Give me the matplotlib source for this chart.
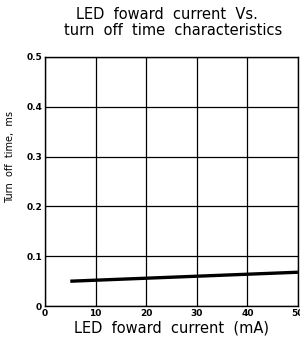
import matplotlib
matplotlib.use('Agg')
import matplotlib.pyplot as plt

# LED forward current (mA) vs turn off time (ms)
current = [5, 10, 20, 30, 40, 50]
toff = [0.050, 0.052, 0.056, 0.060, 0.064, 0.068]

xticks = [0, 10, 20, 30, 40, 50]
yticks = [0, 0.1, 0.2, 0.3, 0.4, 0.5]
yticklabels = ['0', '0.1', '0.2', '0.3', '0.4', '0.5']

fig = plt.figure(figsize=(3.0, 3.39), dpi=100)
ax = fig.add_axes([0.15, 0.097, 0.843, 0.735])

ax.plot(current, toff, color='black', linewidth=2.4, solid_capstyle='butt')

ax.set_xlim(0, 50)
ax.set_ylim(0, 0.5)
ax.set_xticks(xticks)
ax.set_yticks(yticks)
ax.set_yticklabels(yticklabels)
ax.tick_params(labelsize=6.5, length=0, pad=2)
for lab in ax.get_xticklabels() + ax.get_yticklabels():
    lab.set_fontweight('bold')
ax.grid(True, color='black', linewidth=0.9)
for s in ax.spines.values():
    s.set_color('black')
    s.set_linewidth(1.0)

ax.set_xlabel('LED  foward  current  (mA)', fontsize=10.5, labelpad=2)
ax.set_ylabel('Turn  off  time,  ms', fontsize=7, labelpad=8)
ax.yaxis.set_label_coords(-0.12, 0.6)
fig.text(0.555, 0.978, 'LED  foward  current  Vs.', fontsize=10.5, ha='center', va='top')
fig.text(0.578, 0.932, 'turn  off  time  characteristics', fontsize=10.5, ha='center', va='top')

fig.savefig('out.png', dpi=100)
